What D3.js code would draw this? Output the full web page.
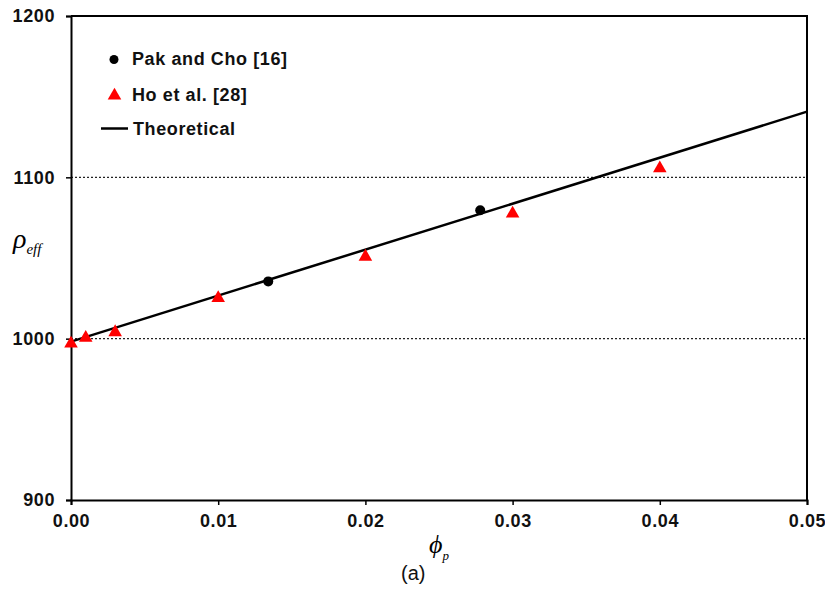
<!DOCTYPE html>
<html>
<head>
<meta charset="utf-8">
<script src="https://cdn.jsdelivr.net/npm/d3@7"></script>
<style>
  body { margin: 0; background: #fff; }
  svg { display: block; }
  .tick text { font-family: "Liberation Sans", Arial, sans-serif; font-weight: bold; font-size: 18px; letter-spacing: 0.6px; fill: #111; }
</style>
</head>
<body>
<div id="chart"></div>
<script>
// Data
const hoPhi = [0, 0.001, 0.003, 0.01, 0.02, 0.03, 0.04];
const hoRho = [997, 1000.5, 1004, 1025.2, 1050.8, 1077.5, 1105.6];

const pakPhi = [0.0134, 0.0278];
const pakRho = [1035.5, 1079.6];

const theoPhi = [0, 0.05];
const theoRho = [998.2, 1140.7];

const xTicks = [0, 0.01, 0.02, 0.03, 0.04, 0.05];
const yTicks = [900, 1000, 1100, 1200];
const gridValues = [1000, 1100];

const width = 825, height = 589;
const margin = { top: 16, right: 18, bottom: 89, left: 71 };

const svg = d3.select('#chart').append('svg')
    .attr('width', width)
    .attr('height', height);

const x = d3.scaleLinear().domain([0, 0.05]).range([margin.left, width - margin.right]);
const y = d3.scaleLinear().domain([900, 1200]).range([height - margin.bottom, margin.top]);

// dotted gridlines
svg.selectAll('.grid')
    .data(gridValues)
    .enter().append('line')
    .attr('x1', x(0)).attr('x2', x(0.05))
    .attr('y1', d => y(d)).attr('y2', d => y(d))
    .attr('stroke', '#222')
    .attr('stroke-width', 1.2)
    .attr('stroke-dasharray', '2,2');

// frame (top + right)
svg.append('path')
    .attr('d', `M${x(0)},${y(1200)}H${x(0.05)}V${y(900)}`)
    .attr('fill', 'none')
    .attr('stroke', '#000')
    .attr('stroke-width', 2);

// axes
const xAxis = svg.append('g')
    .attr('transform', `translate(0,${y(900)})`)
    .call(d3.axisBottom(x).tickValues(xTicks).tickFormat(d3.format('.2f')).tickSize(5).tickPadding(14));
const yAxis = svg.append('g')
    .attr('transform', `translate(${x(0)},0)`)
    .call(d3.axisLeft(y).tickValues(yTicks).tickFormat(d3.format('d')).tickSize(5).tickPadding(12));

[xAxis, yAxis].forEach(g => {
    g.select('.domain').attr('stroke', '#000').attr('stroke-width', 2);
    g.selectAll('.tick line').attr('stroke', '#000').attr('stroke-width', 1.5);
});
xAxis.selectAll('.tick text').attr('dy', '0.45em');
yAxis.selectAll('.tick text').attr('dx', '1px');

// theoretical line
const line = d3.line().x(d => x(d[0])).y(d => y(d[1]));
svg.append('path')
    .datum(d3.zip(theoPhi, theoRho))
    .attr('d', line)
    .attr('fill', 'none')
    .attr('stroke', '#000')
    .attr('stroke-width', 2.5);

// Ho et al. triangles
const tri = d3.symbol().type(d3.symbolTriangle).size(80);
svg.selectAll('.ho')
    .data(d3.zip(hoPhi, hoRho))
    .enter().append('path')
    .attr('d', tri)
    .attr('transform', d => `translate(${x(d[0])},${y(d[1])})`)
    .attr('fill', '#ff0000');

// Pak and Cho circles
svg.selectAll('.pak')
    .data(d3.zip(pakPhi, pakRho))
    .enter().append('circle')
    .attr('cx', d => x(d[0]))
    .attr('cy', d => y(d[1]))
    .attr('r', 5)
    .attr('fill', '#000');

// legend
const legend = svg.append('g');
const legendFont = 'font-family: "Liberation Sans", Arial, sans-serif; font-weight: bold; font-size: 18px; letter-spacing: 0.6px;';
legend.append('circle').attr('cx', 114).attr('cy', 59.5).attr('r', 4.5).attr('fill', '#000');
legend.append('text').attr('x', 132).attr('y', 65).attr('style', legendFont).attr('fill', '#111').text('Pak and Cho [16]');
legend.append('path').attr('d', tri).attr('transform', 'translate(114.5,95.5)').attr('fill', '#ff0000');
legend.append('text').attr('x', 132).attr('y', 101).attr('style', legendFont).attr('fill', '#111').text('Ho et al. [28]');
legend.append('line').attr('x1', 101).attr('x2', 128).attr('y1', 128.5).attr('y2', 128.5).attr('stroke', '#000').attr('stroke-width', 2.5);
legend.append('text').attr('x', 133).attr('y', 135).attr('style', legendFont).attr('fill', '#111').text('Theoretical');

// axis titles
const yTitle = svg.append('text')
    .attr('x', 13).attr('y', 248)
    .style('font-family', '"Liberation Serif", "Times New Roman", serif')
    .style('font-style', 'italic');
yTitle.append('tspan').style('font-size', '28px').text('ρ');
yTitle.append('tspan').style('font-size', '15px').attr('dy', 6).text('eff');

const xTitle = svg.append('text')
    .attr('x', 429).attr('y', 553)
    .style('font-family', '"Liberation Serif", "Times New Roman", serif')
    .style('font-style', 'italic');
xTitle.append('tspan').style('font-size', '26px').text('ϕ');
xTitle.append('tspan').style('font-size', '13px').attr('dy', 7).text('p');

svg.append('text')
    .attr('x', 401).attr('y', 580)
    .style('font-family', '"Liberation Sans", Arial, sans-serif')
    .style('font-size', '20px')
    .attr('fill', '#111')
    .text('(a)');
</script>
</body>
</html>
